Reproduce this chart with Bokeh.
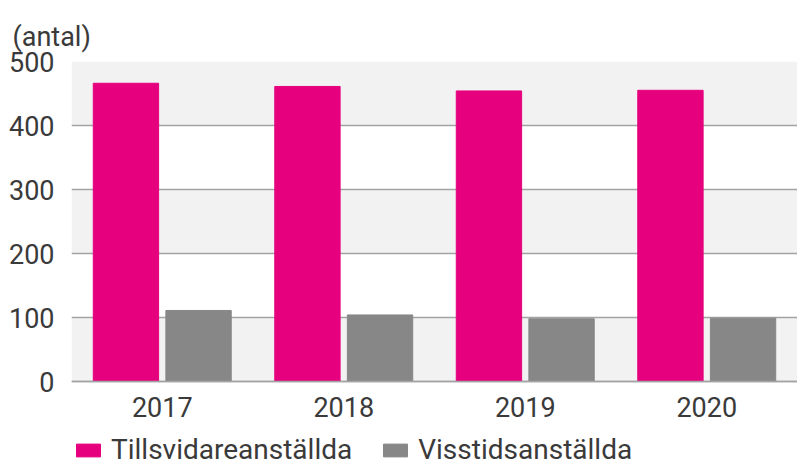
from bokeh.plotting import figure
from bokeh.models import ColumnDataSource, FactorRange, Range1d, Legend, LegendItem, FixedTicker
from bokeh.transform import dodge
from bokeh.embed import file_html
from bokeh.resources import INLINE

years = ["2017", "2018", "2019", "2020"]
tillsvidare = [466, 461, 454, 455]
visstid = [111, 104, 98, 99]
y_ticks = [0, 100, 200, 300, 400, 500]
series_names = ["Tillsvidareanställda", "Visstidsanställda"]
unit_label = "(antal)"

PINK = "#e6007e"
GRAY = "#878787"
TEXT = "#3a3a3a"
FONT = "Roboto"

# frame: top at 500 (page y 61), 0.64 px per unit, frame runs to the bottom of the page
Y_MIN = -132.8

src = ColumnDataSource(dict(year=years, t=tillsvidare, v=visstid))

p = figure(x_range=FactorRange(*years), y_range=Range1d(Y_MIN, 500),
           width=797, height=466, output_backend="svg", toolbar_location=None,
           min_border_left=71, min_border_right=0, min_border_top=61, min_border_bottom=0)

r1 = p.vbar(x=dodge("year", -0.2, range=p.x_range), top="t", width=0.36, source=src,
            fill_color=PINK, line_color=PINK)
r2 = p.vbar(x=dodge("year", 0.2, range=p.x_range), top="v", width=0.36, source=src,
            fill_color=GRAY, line_color=GRAY)

p.outline_line_color = None
p.xgrid.grid_line_color = None
p.ygrid.ticker = FixedTicker(ticks=y_ticks)
p.ygrid.grid_line_color = "#a3a3a3"
p.ygrid.grid_line_width = 1.5
p.ygrid.band_fill_color = "#f2f2f2"
p.ygrid.band_fill_alpha = 1.0

p.yaxis.ticker = FixedTicker(ticks=y_ticks)
p.yaxis.axis_line_color = None
p.yaxis.major_tick_line_color = None
p.yaxis.minor_tick_line_color = None
p.yaxis.major_label_standoff = 11

p.xaxis.fixed_location = 0
p.xaxis.axis_line_color = "#a3a3a3"
p.xaxis.axis_line_width = 1.5
p.xaxis.major_tick_line_color = None
p.xaxis.minor_tick_line_color = None
p.xaxis.major_label_standoff = 9

for ax in (p.xaxis, p.yaxis):
    ax.major_label_text_font = FONT
    ax.major_label_text_font_size = "27px"
    ax.major_label_text_color = TEXT

p.title.text = unit_label
p.title.align = "left"
p.title.vertical_align = "top"
p.title.offset = -59
p.title.standoff = 14
p.title.text_font = FONT
p.title.text_font_size = "27px"
p.title.text_font_style = "normal"
p.title.text_color = TEXT

legend = Legend(items=[LegendItem(label=series_names[0], renderers=[r1]),
                       LegendItem(label=series_names[1], renderers=[r2])],
                location=(2, 0), orientation="horizontal",
                glyph_width=30, glyph_height=16, label_standoff=8, spacing=28,
                padding=0, margin=0, border_line_color=None, background_fill_alpha=0,
                label_text_font=FONT, label_text_font_size="28px", label_text_color=TEXT)
p.add_layout(legend, "center")

open("out.html", "w").write(file_html(p, INLINE))
